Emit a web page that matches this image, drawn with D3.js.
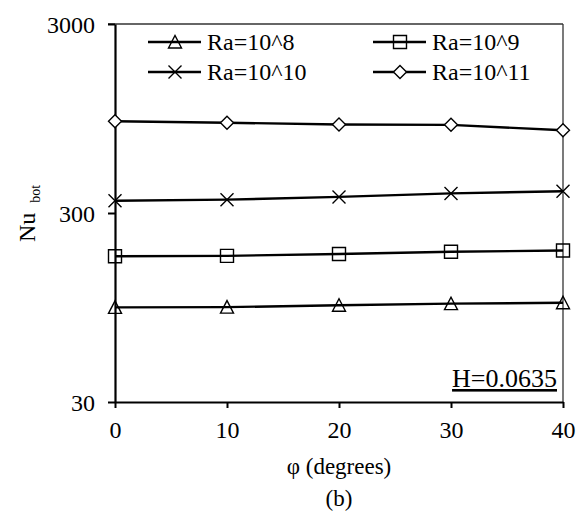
<!DOCTYPE html>
<html>
<head>
<meta charset="utf-8">
<script src="https://cdn.jsdelivr.net/npm/d3@7"></script>
<style>
  body { margin: 0; background: #fff; }
</style>
</head>
<body>
<svg id="chart" width="587" height="517"></svg>
<script>
// angle phi (degrees)
var angles = [0, 10, 20, 30, 40];
// Nu_bot for each Rayleigh number
var nuRa8  = [95, 95.3, 97.5, 99.4, 100.5];
var nuRa9  = [177, 178, 182, 187, 190];
var nuRa10 = [348, 353, 365, 381, 391];
var nuRa11 = [917, 901, 882, 878, 822];
var seriesNames = ["Ra=10^8", "Ra=10^9", "Ra=10^10", "Ra=10^11"];
var yTicks = [30, 300, 3000];
var xTicks = [0, 10, 20, 30, 40];

var FONT = "Liberation Serif";

var svg = d3.select("#chart"),
    margin = {top: 24, right: 24, bottom: 115, left: 115},
    width = +svg.attr("width") - margin.left - margin.right,
    height = +svg.attr("height") - margin.top - margin.bottom;

var x = d3.scaleLinear().domain([0, 40]).range([0, width]),
    y = d3.scaleLog().domain([30, 3000]).range([height, 0]);

var g = svg.append("g")
    .attr("transform", "translate(" + margin.left + "," + margin.top + ")");

// frame (top / right)
g.append("line").attr("x1", -7).attr("x2", width).attr("y1", 0).attr("y2", 0)
    .attr("stroke", "#333").attr("stroke-width", 1.3);
g.append("line").attr("x1", width).attr("x2", width).attr("y1", 0).attr("y2", height)
    .attr("stroke", "#333").attr("stroke-width", 1.3);

var xAxis = g.append("g")
    .attr("transform", "translate(0," + height + ")")
    .call(d3.axisBottom(x).tickValues(xTicks).tickSize(6).tickSizeOuter(0).tickPadding(13));

var yAxis = g.append("g")
    .call(d3.axisLeft(y).tickValues(yTicks).tickFormat(d3.format("d"))
      .tickSize(7).tickSizeOuter(0).tickPadding(13));

[xAxis, yAxis].forEach(function(a) {
  a.attr("font-family", FONT).attr("font-size", 24);
  a.select(".domain").attr("stroke", "#000").attr("stroke-width", 2.2);
  a.selectAll(".tick line").attr("stroke", "#000").attr("stroke-width", 2);
  a.selectAll(".tick text").attr("fill", "#000");
});
yAxis.selectAll(".tick text").attr("dy", "0.34em");

// marker shapes
function marker(sel, kind) {
  var p;
  if (kind === 0) p = "M-6.5,6L0,-6.5L6.5,6Z";
  else if (kind === 1) p = "M-6.5,-6.5H6.5V6.5H-6.5Z";
  else if (kind === 2) p = "M-6.5,-6.5L6.5,6.5M6.5,-6.5L-6.5,6.5";
  else p = "M0,-6.5L6.5,0L0,6.5L-6.5,0Z";
  sel.append("path").attr("d", p)
      .attr("fill", kind === 3 ? "#fff" : "none")
      .attr("stroke", "#000").attr("stroke-width", 1.4);
}

var allSeries = [nuRa8, nuRa9, nuRa10, nuRa11];
var line = d3.line()
    .x(function(d, i) { return x(angles[i]); })
    .y(function(d) { return y(d); });

allSeries.forEach(function(vals, k) {
  g.append("path").datum(vals)
      .attr("d", line)
      .attr("fill", "none")
      .attr("stroke", "#000")
      .attr("stroke-width", 2.4);
  vals.forEach(function(v, i) {
    var m = g.append("g").attr("transform", "translate(" + x(angles[i]) + "," + y(v) + ")");
    marker(m, k);
  });
});

// legend
var legendPos = [[33, 18], [258, 18], [33, 48], [258, 48]];
seriesNames.forEach(function(name, k) {
  var lg = g.append("g").attr("transform", "translate(" + legendPos[k][0] + "," + legendPos[k][1] + ")");
  lg.append("line").attr("x1", 0).attr("x2", 53).attr("y1", 0).attr("y2", 0)
      .attr("stroke", "#000").attr("stroke-width", 2.4);
  var m = lg.append("g").attr("transform", "translate(27,0)");
  marker(m, k);
  lg.append("text").attr("x", 59).attr("y", 8)
      .attr("font-family", FONT).attr("font-size", 24).text(name);
});

// H label
g.append("text").attr("x", width - 6).attr("y", height - 15)
    .attr("text-anchor", "end")
    .attr("font-family", FONT).attr("font-size", 26)
    .attr("text-decoration", "underline").text("H=0.0635");

// axis titles
svg.append("text")
    .attr("x", margin.left + width / 2).attr("y", 474)
    .attr("text-anchor", "middle")
    .attr("font-family", FONT).attr("font-size", 23)
    .text("φ (degrees)");

svg.append("text")
    .attr("x", margin.left + width / 2).attr("y", 506)
    .attr("text-anchor", "middle")
    .attr("font-family", FONT).attr("font-size", 23)
    .text("(b)");

var yt = svg.append("text")
    .attr("transform", "translate(35,242) rotate(-90)")
    .attr("font-family", FONT).attr("font-size", 24);
yt.append("tspan").text("Nu");
yt.append("tspan").attr("dx", 10).attr("dy", 5).attr("font-size", 14).text("bot");
</script>
</body>
</html>
